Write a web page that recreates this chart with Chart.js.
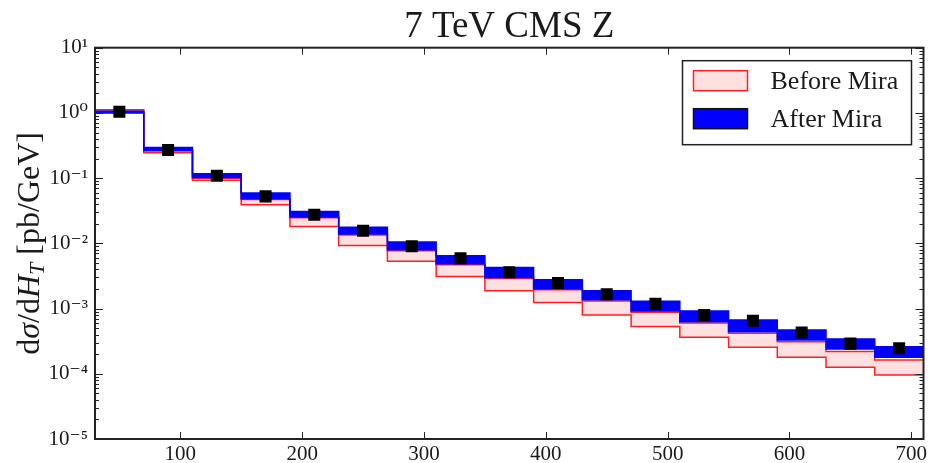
<!DOCTYPE html>
<html lang="en">
<head>
<meta charset="UTF-8">
<title>7 TeV CMS Z</title>
<script src="https://cdn.jsdelivr.net/npm/chart.js"></script>
<style>
  html, body { margin: 0; padding: 0; background: #fff; }
  .chart-container { width: 932px; height: 463px; }
</style>
</head>
<body>
<div class="chart-container"><canvas id="htChart"></canvas></div>
<script>
// H_T bins (GeV), 40 GeV wide
const binCenters = [50, 90, 130, 170, 210, 250, 290, 330, 370, 410, 450, 490, 530, 570, 610, 650, 690];
const binWidth = 40;

// band edges, pb/GeV
const afterHi  = [1.06, 0.295, 0.117, 0.0593, 0.0309, 0.0176, 0.0105, 0.00645, 0.00427, 0.00276, 0.00187, 0.00129, 0.00092, 0.00067, 0.00047, 0.00034, 0.00026];
const afterLo  = [1.00, 0.265, 0.102, 0.0484, 0.0254, 0.0139, 0.0080, 0.00486, 0.00299, 0.00201, 0.00136, 0.00092, 0.00063, 0.00044, 0.00033, 0.00024, 0.00018];
const beforeHi = [1.12, 0.262, 0.100, 0.0470, 0.0246, 0.0134, 0.0077, 0.00470, 0.00290, 0.00194, 0.00131, 0.00088, 0.00060, 0.00042, 0.00031, 0.00022, 0.000163];
const beforeLo = [1.06, 0.245, 0.0925, 0.0392, 0.0182, 0.0093, 0.0053, 0.00310, 0.00187, 0.00124, 0.00080, 0.00053, 0.000364, 0.000255, 0.000179, 0.000126, 0.000096];

// CMS data points
const cmsData = [1.04, 0.27, 0.109, 0.0525, 0.0275, 0.0156, 0.0090, 0.0059, 0.0036, 0.00246, 0.00166, 0.00118, 0.00080, 0.00065, 0.00043, 0.00029, 0.000246];

// axes
const xTickValues = [100, 200, 300, 400, 500, 600, 700];
const yExponents = [-5, -4, -3, -2, -1, 0, 1];
const seriesNames = ['Before Mira', 'After Mira'];
const titleText = '7 TeV CMS Z';

const serif = "'Liberation Serif', 'DejaVu Serif', serif";
const sup = {'-': '⁻', '0': '⁰', '1': '¹', '2': '²', '3': '³', '4': '⁴', '5': '⁵', '6': '⁶', '7': '⁷', '8': '⁸', '9': '⁹'};

function stepPoints(values) {
    const pts = values.map((v, i) => ({x: binCenters[i] - binWidth / 2, y: v}));
    pts.push({x: binCenters[binCenters.length - 1] + binWidth / 2, y: values[values.length - 1]});
    return pts;
}

// major + minor ticks of the log axis
const yMajor = yExponents.map(e => Math.pow(10, e));
const yMinor = [];
yExponents.slice(0, -1).forEach(e => {
    for (let k = 2; k <= 9; k++) yMinor.push(k * Math.pow(10, e));
});

// inward ticks on all four sides and the box
const frameTicks = {
    id: 'frameTicks',
    afterDatasetsDraw(chart) {
        const {ctx, chartArea: a, scales: {x, y}} = chart;
        ctx.save();
        ctx.strokeStyle = '#222';
        ctx.lineWidth = 1;
        const seg = (x1, y1, x2, y2) => { ctx.beginPath(); ctx.moveTo(x1, y1); ctx.lineTo(x2, y2); ctx.stroke(); };
        xTickValues.forEach(v => {
            const px = Math.round(x.getPixelForValue(v)) + 0.5;
            seg(px, a.bottom, px, a.bottom - 7);
            seg(px, a.top, px, a.top + 7);
        });
        yMajor.forEach(v => {
            const py = Math.round(y.getPixelForValue(v)) + 0.5;
            seg(a.left, py, a.left + 8, py);
            seg(a.right, py, a.right - 8, py);
        });
        yMinor.forEach(v => {
            const py = Math.round(y.getPixelForValue(v)) + 0.5;
            seg(a.left, py, a.left + 4, py);
            seg(a.right, py, a.right - 4, py);
        });
        ctx.lineWidth = 2;
        ctx.strokeRect(a.left, a.top, a.width, a.height);
        ctx.restore();
    }
};

// legend box inside the plot, top right
const boxLegend = {
    id: 'boxLegend',
    afterDraw(chart) {
        const {ctx, chartArea: a} = chart;
        const w = 229, h = 84;
        const left = a.right - 12 - w, top = a.top + 13;
        ctx.save();
        ctx.fillStyle = '#fff';
        ctx.fillRect(left, top, w, h);
        ctx.strokeStyle = '#222';
        ctx.lineWidth = 1.5;
        ctx.strokeRect(left, top, w, h);
        const swatches = [
            {fill: 'rgba(255,0,0,0.12)', stroke: '#ff2020'},
            {fill: '#0000ff', stroke: '#111'}
        ];
        ctx.font = '26px ' + serif;
        ctx.textBaseline = 'middle';
        swatches.forEach((s, i) => {
            const sy = top + 10 + i * 38;
            ctx.fillStyle = '#fff';
            ctx.fillRect(left + 11, sy, 54, 20);
            ctx.fillStyle = s.fill;
            ctx.fillRect(left + 11, sy, 54, 20);
            ctx.strokeStyle = s.stroke;
            ctx.lineWidth = 1.5;
            ctx.strokeRect(left + 11, sy, 54, 20);
            ctx.fillStyle = '#1a1a1a';
            ctx.fillText(seriesNames[i], left + 88, sy + 11);
        });
        ctx.restore();
    }
};

// y axis title with italic math parts
const yTitle = {
    id: 'yTitle',
    afterDraw(chart) {
        const {ctx, chartArea: a} = chart;
        const parts = [
            {t: 'd', it: false}, {t: 'σ', it: true}, {t: '/d', it: false},
            {t: 'H', it: true}, {t: 'T', it: true, sub: true}, {t: ' [pb/GeV]', it: false}
        ];
        const fontFor = p => (p.it ? 'italic ' : '') + (p.sub ? 22 : 32) + 'px ' + serif;
        ctx.save();
        let total = 0;
        parts.forEach(p => { ctx.font = fontFor(p); p.w = ctx.measureText(p.t).width; total += p.w; });
        ctx.translate(29, (a.top + a.bottom) / 2);
        ctx.rotate(-Math.PI / 2);
        ctx.fillStyle = '#1a1a1a';
        ctx.textBaseline = 'alphabetic';
        let cx = -total / 2;
        parts.forEach(p => {
            ctx.font = fontFor(p);
            ctx.fillText(p.t, cx, p.sub ? 15 : 10);
            cx += p.w;
        });
        ctx.restore();
    }
};

new Chart(document.getElementById('htChart'), {
    type: 'line',
    data: {
        datasets: [
            {
                type: 'scatter',
                label: 'CMS',
                data: binCenters.map((c, i) => ({x: c, y: cmsData[i]})),
                pointStyle: 'rect',
                pointRadius: 8.5,
                backgroundColor: '#000',
                borderColor: '#000',
                borderWidth: 0,
                order: 0
            },
            {
                label: seriesNames[1],
                data: stepPoints(afterHi),
                stepped: true,
                borderColor: '#0000ff',
                borderWidth: 1.5,
                backgroundColor: '#0000ff',
                fill: '+1',
                pointRadius: 0,
                order: 1
            },
            {
                label: seriesNames[1] + ' low',
                data: stepPoints(afterLo),
                stepped: true,
                borderColor: '#0000ff',
                borderWidth: 1.5,
                fill: false,
                pointRadius: 0,
                order: 1
            },
            {
                label: seriesNames[0],
                data: stepPoints(beforeHi),
                stepped: true,
                borderColor: '#ff2020',
                borderWidth: 1.5,
                backgroundColor: 'rgba(255,0,0,0.12)',
                fill: '+1',
                pointRadius: 0,
                order: 2
            },
            {
                label: seriesNames[0] + ' low',
                data: stepPoints(beforeLo),
                stepped: true,
                borderColor: '#ff2020',
                borderWidth: 1.5,
                fill: false,
                pointRadius: 0,
                order: 2
            }
        ]
    },
    options: {
        responsive: true,
        maintainAspectRatio: false,
        animation: false,
        devicePixelRatio: 1,
        layout: { padding: { left: 0, right: 7, top: 0, bottom: 0 } },
        plugins: {
            legend: { display: false },
            tooltip: { enabled: false },
            title: {
                display: true,
                text: titleText,
                fullSize: false,
                color: '#1a1a1a',
                font: { family: serif, size: 37, weight: 'normal', lineHeight: 1.1 },
                padding: { top: 7, bottom: 0 }
            }
        },
        scales: {
            x: {
                type: 'linear',
                min: 30,
                max: 710,
                grid: { display: false, drawTicks: false },
                border: { display: false },
                afterBuildTicks: scale => { scale.ticks = xTickValues.map(v => ({value: v})); },
                afterFit: scale => { scale.height = 24; },
                ticks: {
                    autoSkip: false,
                    maxRotation: 0,
                    padding: 3,
                    color: '#1a1a1a',
                    font: { family: serif, size: 21 }
                }
            },
            y: {
                type: 'logarithmic',
                min: 1e-5,
                max: 10,
                grid: { display: false, drawTicks: false },
                border: { display: false },
                afterBuildTicks: scale => { scale.ticks = yMajor.map(v => ({value: v})); },
                afterFit: scale => { scale.width = 95; },
                ticks: {
                    autoSkip: false,
                    padding: 7,
                    color: '#1a1a1a',
                    font: { family: serif, size: 21 },
                    callback: value => {
                        const e = Math.round(Math.log10(value));
                        return '10' + String(e).split('').map(c => sup[c]).join('');
                    }
                }
            }
        }
    },
    plugins: [frameTicks, boxLegend, yTitle]
});
</script>
</body>
</html>
